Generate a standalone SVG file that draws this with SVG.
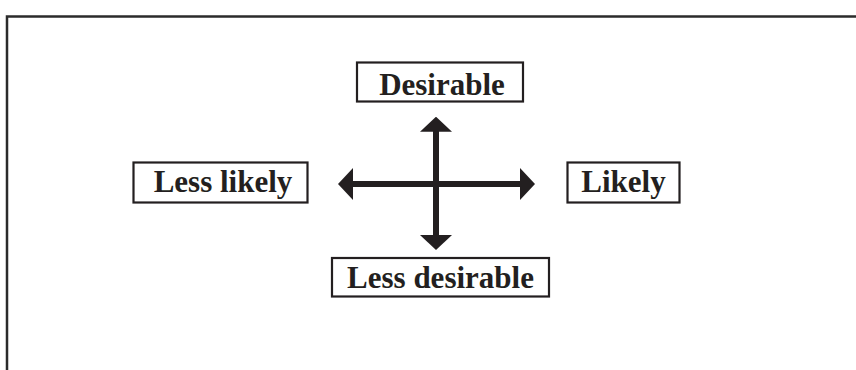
<svg xmlns="http://www.w3.org/2000/svg" width="856" height="370" viewBox="0 0 856 370">
<style>
.frame{fill:none;stroke:#2b2b2b;stroke-width:2.5}
.box{fill:#fff;stroke:#231f20;stroke-width:2.2}
.lbl{font-family:"Liberation Serif","Times New Roman",serif;font-weight:bold;font-size:31px;fill:#231f20;text-anchor:middle}
.axis{stroke:#231f20;stroke-width:6;fill:none;marker-start:url(#ah);marker-end:url(#ah)}
</style>
<defs>
<marker id="ah" viewBox="0 0 15 32" refX="5" refY="16" markerWidth="15" markerHeight="32" markerUnits="userSpaceOnUse" orient="auto-start-reverse">
<path d="M0,0 L15,16 L0,32 z" fill="#231f20"/>
</marker>
</defs>
<rect width="856" height="370" fill="#fff"/>
<path class="frame" d="M7,370 V16.5 H856"/>
<g id="connectors">
<line class="axis" x1="436" y1="126.7" x2="436" y2="240"/>
<line class="axis" x1="348" y1="184" x2="525" y2="184"/>
</g>
<g id="desirable">
<rect class="box" x="357" y="62.5" width="166" height="39"/>
<text class="lbl" x="442" y="95">Desirable</text>
</g>
<g id="less-desirable">
<rect class="box" x="332" y="258" width="217" height="38.5"/>
<text class="lbl" x="440.5" y="287.5">Less desirable</text>
</g>
<g id="less-likely">
<rect class="box" x="133.5" y="162.5" width="174" height="40"/>
<text class="lbl" x="223" y="192">Less likely</text>
</g>
<g id="likely">
<rect class="box" x="567.5" y="162.5" width="112" height="40"/>
<text class="lbl" x="623.5" y="192">Likely</text>
</g>
</svg>
